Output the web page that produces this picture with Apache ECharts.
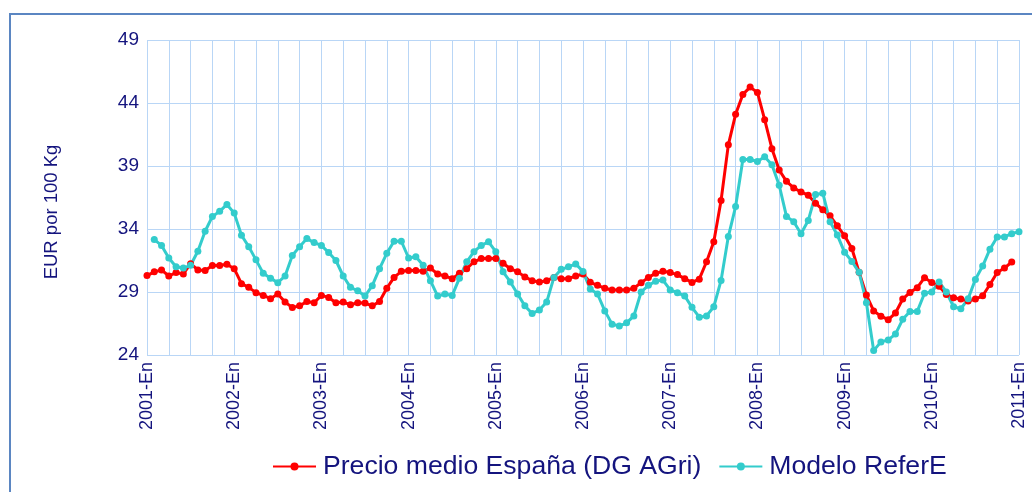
<!DOCTYPE html>
<html>
<head>
<meta charset="utf-8">
<title>Precio medio vs Modelo ReferE</title>
<script src="https://cdn.jsdelivr.net/npm/echarts@6/dist/echarts.min.js"></script>
<style>
  html, body { margin: 0; padding: 0; background: #fff; }
  #chart { width: 1032px; height: 492px; }
</style>
</head>
<body>
<div id="chart"></div>
<script>
// meses en castellano, de 2001-En a 2011-En (121 puntos)
var monthNames = ["En","Feb","Mar","Abr","May","Jun","Jul","Ago","Sep","Oct","Nov","Dic"];
var categories = [];
for (var y = 2001; y <= 2011; y++) {
    for (var m = 0; m < 12; m++) {
        if (y === 2011 && m > 0) break;
        categories.push(y + "-" + monthNames[m]);
    }
}

// EUR por 100 Kg
var precioDGAgri = [
    30.3, 30.6, 30.75, 30.27, 30.54, 30.43, 31.25, 30.75, 30.7, 31.1, 31.1, 31.2,
    30.85, 29.66, 29.37, 28.95, 28.73, 28.47, 28.84, 28.2, 27.77, 27.9, 28.25, 28.15,
    28.73, 28.57, 28.15, 28.2, 27.99, 28.15, 28.12, 27.9, 28.25, 29.3, 30.16, 30.64,
    30.7, 30.7, 30.64, 30.9, 30.43, 30.27, 30.06, 30.48, 30.85, 31.4, 31.65, 31.65,
    31.65, 31.28, 30.85, 30.6, 30.2, 29.9, 29.8, 29.9, 30.16, 30.06, 30.06, 30.27,
    30.42, 29.77, 29.53, 29.3, 29.16, 29.16, 29.16, 29.3, 29.74, 30.16, 30.48, 30.64,
    30.54, 30.38, 30.06, 29.76, 30.02, 31.4, 32.98, 36.26, 40.68, 43.1, 44.68, 45.26,
    44.84, 42.68, 40.37, 38.68, 37.78, 37.26, 36.94, 36.68, 36.05, 35.52, 35.05, 34.25,
    33.46, 32.45, 30.56, 28.76, 27.5, 27.08, 26.8, 27.33, 28.44, 28.97, 29.34, 30.14,
    29.76, 29.45, 28.81, 28.54, 28.44, 28.28, 28.44, 28.7, 29.6, 30.55, 30.9, 31.38,
    null
];

var modeloReferE = [
    null, 33.16, 32.7, 31.7, 31.0, 30.9, 31.12, 32.23, 33.82, 35.0, 35.4, 35.95,
    35.26, 33.5, 32.6, 31.55, 30.48, 30.1, 29.74, 30.27, 31.9, 32.6, 33.24, 32.92,
    32.7, 32.13, 31.5, 30.27, 29.37, 29.1, 28.68, 29.5, 30.85, 32.07, 33.03, 33.03,
    31.7, 31.8, 31.12, 29.9, 28.68, 28.84, 28.73, 30.1, 31.4, 32.2, 32.7, 32.98,
    32.2, 30.6, 29.8, 28.84, 27.9, 27.3, 27.57, 28.2, 30.16, 30.8, 31.0, 31.23,
    30.62, 29.23, 28.84, 27.5, 26.45, 26.3, 26.55, 27.1, 29.0, 29.53, 29.85, 29.95,
    29.16, 28.95, 28.68, 27.78, 27.0, 27.1, 27.83, 29.92, 33.4, 35.78, 39.52, 39.52,
    39.36, 39.73, 39.1, 37.47, 35.0, 34.57, 33.62, 34.68, 36.73, 36.84, 34.57, 33.52,
    32.15, 31.43, 30.56, 28.15, 24.35, 25.04, 25.2, 25.66, 26.83, 27.46, 27.46, 28.9,
    29.0, 29.8, 29.0, 27.83, 27.67, 28.46, 30.0, 31.06, 32.4, 33.37, 33.37, 33.63,
    33.79
];

var textColor = "#14147e";
var gridColor = "#b9d6f6";
var font = "'Liberation Sans', Arial, sans-serif";

var chart = echarts.init(document.getElementById("chart"), null, {renderer: "canvas"});

var option = {
    animation: false,
    backgroundColor: "#fff",
    textStyle: {fontFamily: font},
    grid: {left: 147, right: 13, top: 40, bottom: 137},
    graphic: [
        {
            type: "rect",
            shape: {x: 10, y: 14, width: 1060, height: 520},
            style: {fill: null, stroke: "#5b86c2", lineWidth: 2},
            silent: true
        },
        {
            type: "text",
            x: 52, y: 212,
            rotation: Math.PI / 2,
            style: {
                text: "EUR por 100 Kg",
                fill: textColor,
                font: "18.5px " + font,
                align: "center",
                verticalAlign: "middle"
            }
        }
    ],
    legend: {
        left: 272,
        top: 453,
        padding: 0,
        itemWidth: 43,
        itemHeight: 10,
        itemGap: 17,
        textStyle: {color: textColor, fontSize: 26.6, fontFamily: font, padding: [0, 0, 0, 2]},
        data: ["Precio medio España (DG AGri)", "Modelo ReferE"]
    },
    xAxis: {
        type: "category",
        data: categories,
        boundaryGap: false,
        axisLine: {show: false},
        axisTick: {show: false},
        axisLabel: {
            rotate: 90,
            margin: 7,
            color: textColor,
            fontSize: 18,
            fontFamily: font,
            interval: function (idx) { return idx % 12 === 0; }
        },
        splitLine: {show: true, interval: 2, lineStyle: {color: gridColor, width: 1}}
    },
    yAxis: {
        type: "value",
        min: 24,
        max: 49,
        interval: 5,
        axisLine: {show: false},
        axisTick: {show: false},
        axisLabel: {color: textColor, fontSize: 19, fontFamily: font, margin: 8},
        splitLine: {show: true, lineStyle: {color: gridColor, width: 1}}
    },
    series: [
        {
            name: "Precio medio España (DG AGri)",
            type: "line",
            data: precioDGAgri,
            symbol: "circle",
            symbolSize: 7,
            showAllSymbol: true,
            lineStyle: {color: "#ff0000", width: 3},
            itemStyle: {color: "#ff0000"}
        },
        {
            name: "Modelo ReferE",
            type: "line",
            data: modeloReferE,
            symbol: "circle",
            symbolSize: 7,
            showAllSymbol: true,
            lineStyle: {color: "#33cccc", width: 3},
            itemStyle: {color: "#33cccc"}
        }
    ]
};

chart.setOption(option);
</script>
</body>
</html>
